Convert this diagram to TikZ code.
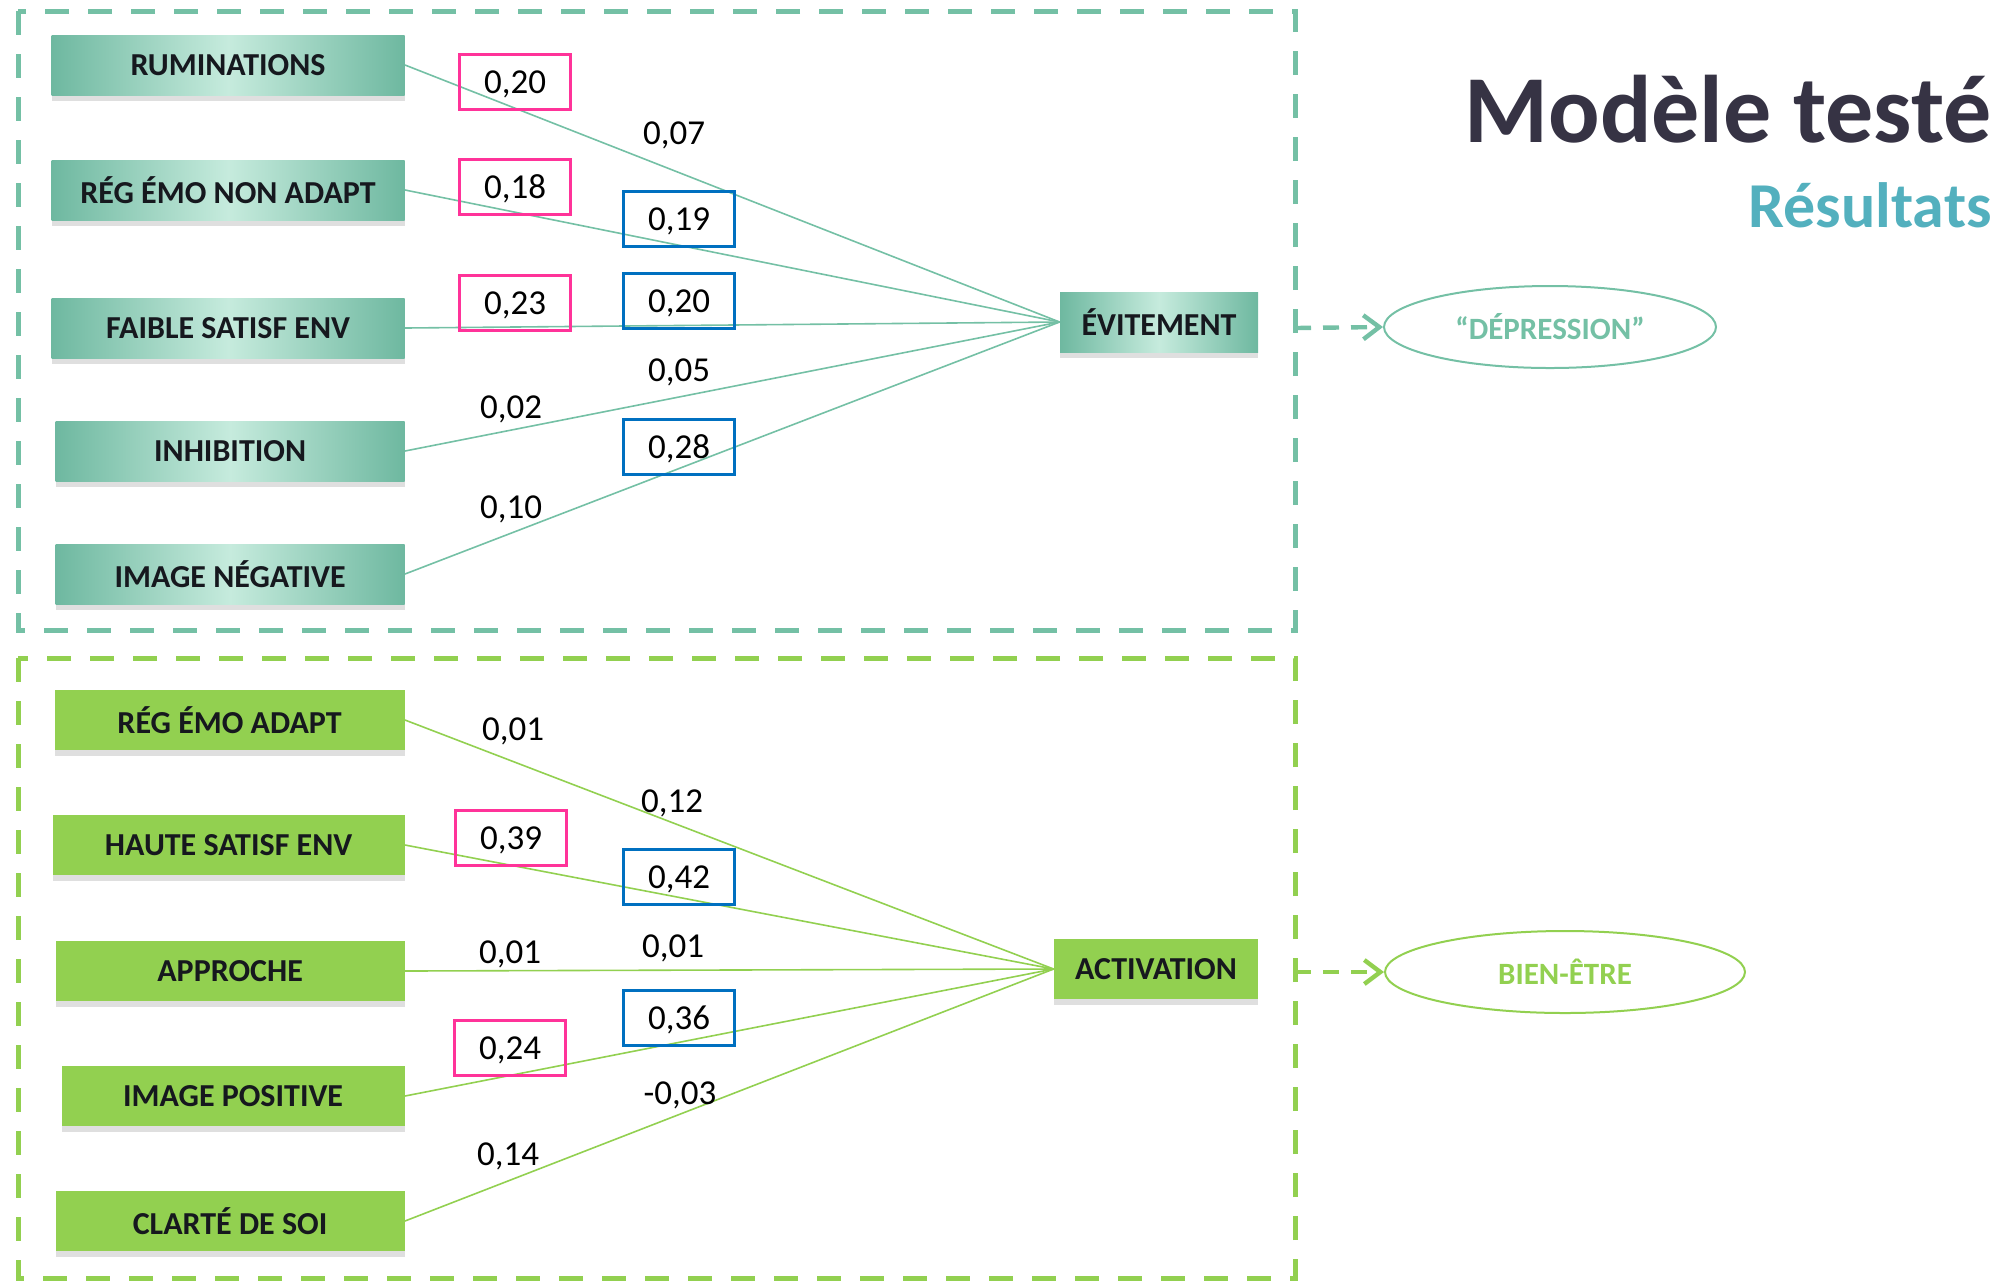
\documentclass[tikz,border=0pt]{standalone}
\usepackage{fontspec}
\setmainfont{Carlito}
\usetikzlibrary{arrows.meta,shapes.geometric,shadows}

\begin{document}
\begin{tikzpicture}
  [x=0.5pt,y=-0.5pt,
   % Styles
   avoid box/.style={minimum height=30pt,inner sep=0pt,text=labeltext,
     font=\bfseries\fontsize{16}{16}\selectfont,
     left color=tealdark,right color=tealdark,middle color=teallight,
     drop shadow={shadow xshift=0pt,shadow yshift=-3pt,opacity=.25}},
   act box/.style={minimum height=30pt,inner sep=0pt,text=labeltext,
     font=\bfseries\fontsize{16}{16}\selectfont,fill=actgreen,
     drop shadow={shadow xshift=0pt,shadow yshift=-3pt,opacity=.25}},
   avoid link/.style={draw=avoidline,line width=.8pt},
   act link/.style={draw=actgreen,line width=.8pt},
   coef/.style={inner sep=0pt,text height=11pt,text depth=0pt,
     font=\fontsize{17.5}{18}\selectfont},
   pink coef/.style={coef,draw=pinkframe,line width=1.6pt,
     minimum width=55.5pt,minimum height=27.5pt},
   blue coef/.style={coef,draw=blueframe,line width=1.6pt,
     minimum width=55.5pt,minimum height=27.5pt},
   group frame/.style={line width=2.5pt,dash pattern=on 12pt off 9.5pt},
   outcome/.style={ellipse,draw,line width=1pt,minimum height=41pt,inner sep=0pt,
     font=\bfseries\fontsize{15.5}{16}\selectfont},
   outcome arrow/.style={line width=2.2pt,dash pattern=on 8pt off 6pt,
     -{Straight Barb[length=8pt,width=12pt]}}]

  % Colors
  \definecolor{tealdark}{RGB}{110,184,160}
  \definecolor{teallight}{RGB}{198,235,221}
  \definecolor{avoidline}{RGB}{116,192,165}
  \definecolor{actgreen}{RGB}{146,208,80}
  \definecolor{labeltext}{RGB}{22,24,30}
  \definecolor{pinkframe}{RGB}{255,51,153}
  \definecolor{blueframe}{RGB}{0,112,192}
  \definecolor{titledark}{RGB}{54,51,68}
  \definecolor{titleteal}{RGB}{83,176,190}

  \useasboundingbox (0,0) rectangle (1998,1282);

  % Group frames
  \draw[group frame,avoidline] (18,11) rectangle (1295,630);
  \draw[group frame,actgreen] (18,658) rectangle (1295,1278);

  % Title
  \node[anchor=base east,inner sep=0pt,text=titledark,
    font=\bfseries\fontsize{48}{48}\selectfont] (title) at (1992,142) {Modèle testé};
  \node[anchor=base east,inner sep=0pt,text=titleteal,
    font=\bfseries\fontsize{32}{32}\selectfont] (subtitle) at (1992,227) {Résultats};

  % Avoidance side
  \foreach \n/\txt/\yy/\ww in {rum/RUMINATIONS/65/176.5,
      regna/RÉG ÉMO NON ADAPT/190/176.5,
      faible/FAIBLE SATISF ENV/328/176.5,
      inhib/INHIBITION/451/174.5,
      imneg/IMAGE NÉGATIVE/574/174.5}
    \node[avoid box,anchor=east,minimum width=\ww pt] (\n) at (405,\yy) {\txt};

  \node[avoid box,minimum width=99pt] (evit) at (1159,322) {ÉVITEMENT};

  \foreach \n in {rum,regna,faible,inhib,imneg}
    \draw[avoid link] (\n.east) -- (evit.west);

  % Activation side
  \foreach \n/\txt/\yy/\ww in {regad/RÉG ÉMO ADAPT/720/175,
      haute/HAUTE SATISF ENV/845/176,
      appro/APPROCHE/971/174.5,
      impos/IMAGE POSITIVE/1096/171.5,
      clarte/CLARTÉ DE SOI/1221/174.5}
    \node[act box,anchor=east,minimum width=\ww pt] (\n) at (405,\yy) {\txt};

  \node[act box,minimum width=102pt] (activ) at (1156,969) {ACTIVATION};

  \foreach \n in {regad,haute,appro,impos,clarte}
    \draw[act link] (\n.east) -- (activ.west);

  % Coefficients
  \foreach \n/\xx/\yy/\val in {pa/515/82/{0,20},pb/515/187/{0,18},pc/515/303/{0,23},
      pd/511/838/{0,39},pe/510/1048/{0,24}}
    \node[pink coef] (\n) at (\xx,\yy) {\val};
  \foreach \n/\xx/\yy/\val in {ba/679/219/{0,19},bb/679/301/{0,20},bc/679/447/{0,28},
      bd/679/877/{0,42},be/679/1018/{0,36}}
    \node[blue coef] (\n) at (\xx,\yy) {\val};
  \foreach \n/\xx/\yy/\val in {ca/674/133/{0,07},cb/679/370/{0,05},cc/511/407/{0,02},
      cd/511/507/{0,10},ce/513/729/{0,01},cf/672/801/{0,12},cg/510/952/{0,01},
      ch/673/946/{0,01},ci/680/1093/{-0,03},cj/508/1154/{0,14}}
    \node[coef] (\n) at (\xx,\yy) {\val};

  % Outcomes
  \node[outcome,draw=avoidline,text=avoidline,minimum width=166pt] (depr) at (1550,327) {“DÉPRESSION”};
  \node[outcome,draw=actgreen,text=actgreen,minimum width=180pt] (bien) at (1565,972) {BIEN-ÊTRE};

  \coordinate (evitout) at (1295,328);
  \coordinate (activout) at (1295,972);
  \draw[outcome arrow,avoidline] (evitout) -- (depr.west);
  \draw[outcome arrow,actgreen] (activout) -- (bien.west);
\end{tikzpicture}
\end{document}
